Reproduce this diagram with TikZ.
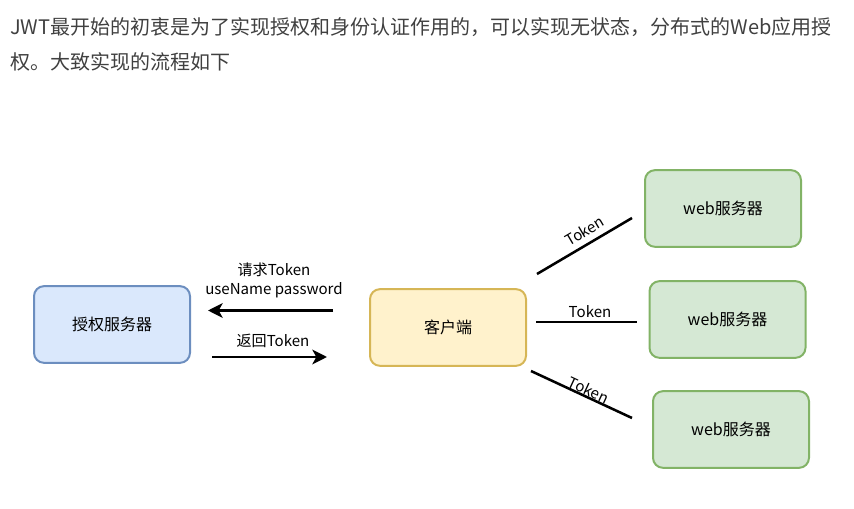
\documentclass[tikz,border=0pt]{standalone}
\usepackage{fontspec}
\setmainfont{Noto Sans CJK SC}
\usetikzlibrary{arrows.meta}

\definecolor{introgray}{HTML}{404040}
\definecolor{authfill}{HTML}{DAE8FC}
\definecolor{authline}{HTML}{6C8EBF}
\definecolor{clientfill}{HTML}{FFF2CC}
\definecolor{clientline}{HTML}{D6B656}
\definecolor{webfill}{HTML}{D5E8D4}
\definecolor{webline}{HTML}{82B366}

\tikzset{
  server/.style={rounded corners=7.5pt, line width=1.5pt, minimum width=117pt,
    minimum height=57.5pt, inner sep=0pt, font=\fontsize{12}{14}\selectfont},
  flow/.style={line width=2pt, -{Stealth[length=11pt, width=11pt, inset=3pt]}},
  tokenline/.style={line width=1.9pt},
  flowlabel/.style={inner sep=0pt, outer sep=0pt, font=\fontsize{11.3}{14.25}\selectfont},
}

\begin{document}
\begin{tikzpicture}[x=0.75pt, y=-0.75pt]
  \useasboundingbox (0,0) rectangle (854,509);

  % intro text
  \node[anchor=west, inner sep=0pt, text=introgray, font=\fontsize{15}{18}\selectfont]
    (intro1) at (10,27) {JWT最开始的初衷是为了实现授权和身份认证作用的，可以实现无状态，分布式的Web应用授};
  \node[anchor=west, inner sep=0pt, text=introgray, font=\fontsize{15}{18}\selectfont]
    (intro2) at (10,62) {权。大致实现的流程如下};

  % servers
  \node[server, draw=authline, fill=authfill] (auth) at (112,324.5) {授权服务器};
  \node[server, draw=clientline, fill=clientfill] (client) at (448,327.5) {客户端};
  \foreach \i/\x/\y in {1/723/208.5, 2/727.5/319.5, 3/731/429.5}
    \node[server, draw=webline, fill=webfill] (web\i) at (\x,\y) {web服务器};

  % request and return
  \coordinate (reqS) at (333,310.5);
  \coordinate (reqE) at (208,310.5);
  \coordinate (retS) at (212,357);
  \coordinate (retE) at (327,357);
  \draw[flow] (reqS) -- (reqE);
  \draw[flow] (retS) -- (retE);
  \node[flowlabel, align=center] (reqlabel) at (274,280.5) {请求Token\\useName password};
  \node[flowlabel] (retlabel) at (273,341) {返回Token};

  % token lines
  \coordinate (tokS1) at (537,274);
  \coordinate (tokE1) at (632,218);
  \coordinate (tokS2) at (536,322);
  \coordinate (tokE2) at (637,322);
  \coordinate (tokS3) at (531,371);
  \coordinate (tokE3) at (632,418);
  \draw[tokenline] (tokS1) -- node[flowlabel, sloped, pos=0.57, above=5.2pt] (tok1) {Token} (tokE1);
  \draw[tokenline] (tokS2) -- node[flowlabel, pos=0.535, above=3.3pt] (tok2) {Token} (tokE2);
  \draw[tokenline] (tokS3) -- node[flowlabel, sloped, pos=0.54, above=0.9pt] (tok3) {Token} (tokE3);
\end{tikzpicture}
\end{document}
